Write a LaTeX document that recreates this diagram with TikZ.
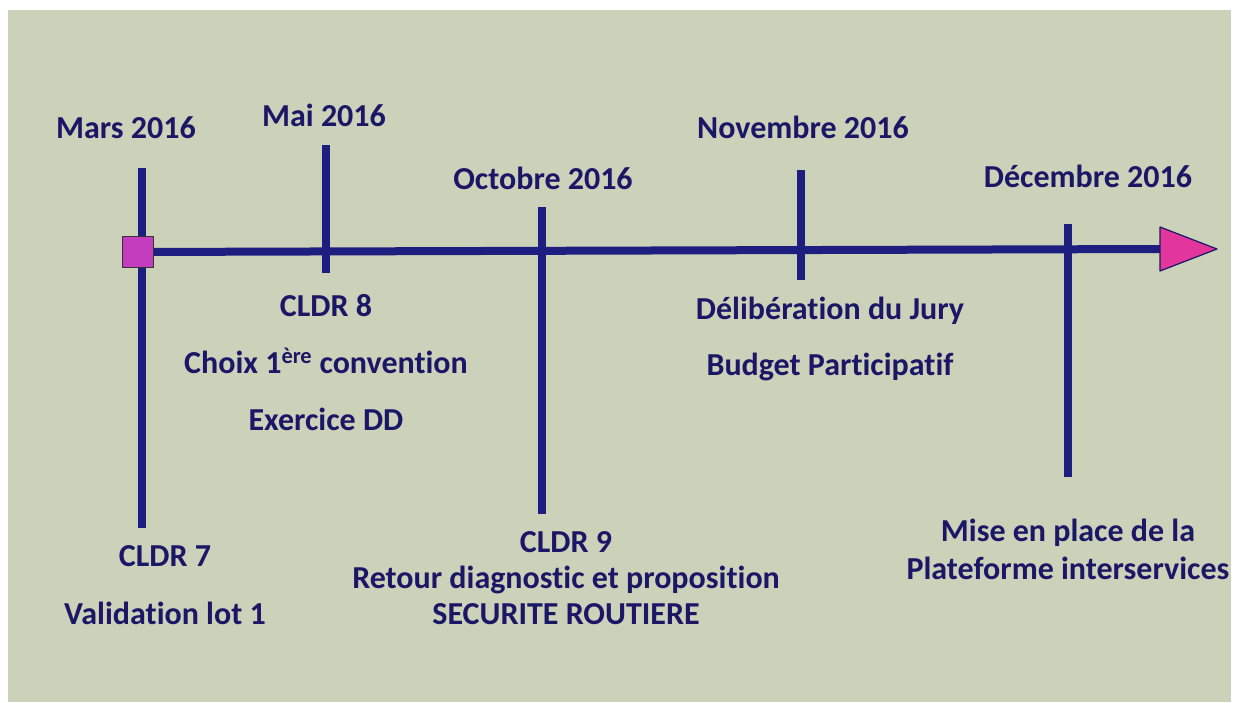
\documentclass[tikz,border=0pt]{standalone}
\usepackage{fontspec}
\setmainfont{Carlito}[Ligatures=NoCommon]
\usepackage{xcolor}
\usetikzlibrary{positioning}
\definecolor{bgcol}{HTML}{CCD1B9}
\definecolor{navy}{HTML}{1E1E80}
\definecolor{txtcol}{HTML}{1B1766}
\definecolor{sqcol}{HTML}{C43DBF}
\definecolor{tricol}{HTML}{E2369C}

\begin{document}
\begin{tikzpicture}[x=1pt, y=-1pt,
		label style/.style={anchor=base, text=txtcol, inner sep=0pt,
			font=\fontsize{32}{38}\selectfont\bfseries},
		tick/.style={navy, line width=8pt},
		axis/.style={navy, line width=8pt},
		start box/.style={rectangle, draw=black!80, fill=sqcol, line width=1.2pt,
			minimum size=31pt, inner sep=0pt}
		]
		\useasboundingbox (0, 0) rectangle (1235, 702);
		\fill[bgcol] (8, 10) rectangle (1231, 702);

		% ticks
		\coordinate (t1a) at (142, 168); \coordinate (t1b) at (142, 528);
		\coordinate (t2a) at (326, 145); \coordinate (t2b) at (326, 273);
		\coordinate (t3a) at (542, 207); \coordinate (t3b) at (542, 514);
		\coordinate (t4a) at (801, 170); \coordinate (t4b) at (801, 280);
		\coordinate (t5a) at (1068, 224); \coordinate (t5b) at (1068, 477);
		\draw[tick] (t1a) -- (t1b);
		\draw[tick] (t2a) -- (t2b);
		\draw[tick] (t3a) -- (t3b);
		\draw[tick] (t4a) -- (t4b);
		\draw[tick] (t5a) -- (t5b);

		% axis
		\coordinate (base) at (1161, 249);
		\coordinate (baseup) at (1160, 227);
		\coordinate (basedn) at (1160, 271);
		\coordinate (tip) at (1217, 249);
		\node[start box] (start) at (138, 252) {};
		\draw[axis] (start) -- (base);
		\filldraw[fill=tricol, draw=navy!80!black, line width=1.2pt, line join=round]
			(baseup) -- (tip) -- (basedn) -- cycle;
		\node[start box] at (start) {};

		% dates
		\node[label style] (mars) at (126, 138) {Mars 2016};
		\node[label style] (mai) at (324, 126) {Mai 2016};
		\node[label style] (oct) at (543, 189) {Octobre 2016};
		\node[label style] (nov) at (803, 138) {Novembre 2016};
		\node[label style] (dec) at (1088, 187) {Décembre 2016};

		% events
		\node[label style] (c7) at (165, 566) {CLDR 7};
		\node[label style] (c7b) at (165, 624) {Validation lot 1};
		\node[label style] (c8) at (326, 316) {CLDR 8};
		\node[label style] (c8b) at (326, 373) {Choix 1\textsuperscript{ère} convention};
		\node[label style] (c8c) at (326, 430) {Exercice DD};
		\node[label style] (c9) at (566, 552) {CLDR 9};
		\node[label style] (c9b) at (566, 588) {Retour diagnostic et proposition};
		\node[label style] (c9c) at (566, 624) {SECURITE ROUTIERE};
		\node[label style] (jury) at (830, 319) {Délibération du Jury};
		\node[label style] (jury2) at (830, 375) {Budget Participatif};
		\node[label style] (plat) at (1068, 541) {Mise en place de la};
		\node[label style] (plat2) at (1068, 579) {Plateforme interservices};
	\end{tikzpicture}
\end{document}
